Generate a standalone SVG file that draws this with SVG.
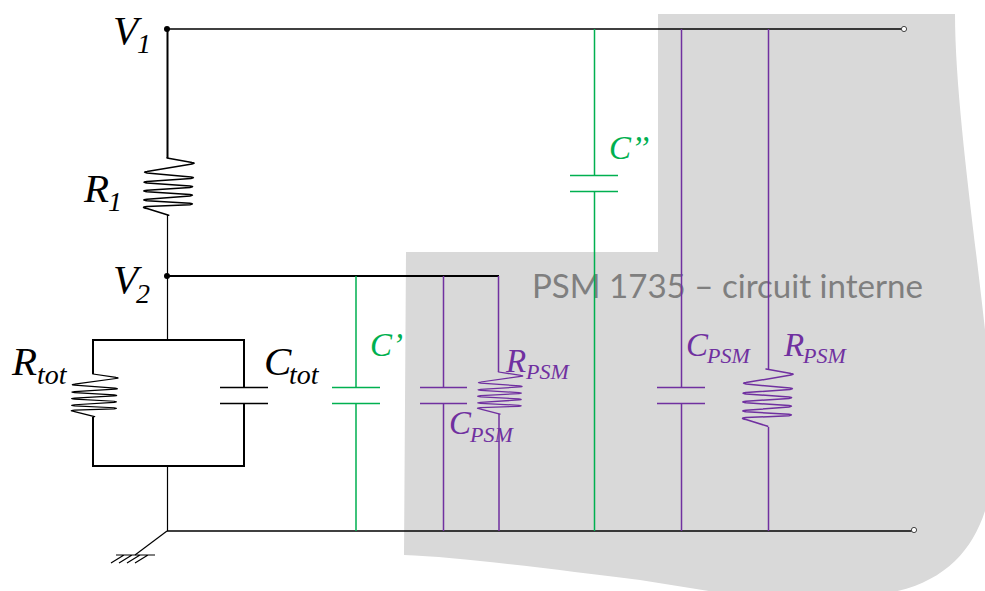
<svg xmlns="http://www.w3.org/2000/svg" width="985" height="591" viewBox="0 0 985 591">
<style>
.k{stroke:#000;fill:none}
.g{stroke:#00B050;fill:none;stroke-width:1.5}
.p{stroke:#7030A0;fill:none;stroke-width:1.5}
.t{font-family:"Liberation Serif","Times New Roman",serif;font-style:italic}
.lg{font-size:41px;fill:#000}
.sb{font-size:28px;fill:#000}
.gt{font-size:33px;fill:#00B050}
.pm{font-size:33px;fill:#7030A0}
.ps{font-size:22px;fill:#7030A0}
.plate{stroke-width:1.4}
.res{fill:none;stroke-linejoin:round;stroke-linecap:round}
</style>
<defs>
<path id="r" d="M0 0L25 4.6Q29.500 5.300 25 6L-20 13.600Q-25 14.300 -20 15L24 19Q29 19.700 24 20.400L-20 23.600Q-26 24.300 -20 25L23 28Q28.500 28.700 23 29.400L-20 32.300Q-26.500 33 -20 33.700L23 36.600Q28 37.300 23 38L-20 41.300Q-26.500 42 -20 42.700L23 45.300Q28 46 23 46.700L-20 48.600Q-27 49.300 -20 50.500L1.700 57.300"/>
</defs>
<path id="zone" fill="#D9D9D9" d="M406 252H658V14H955C955 110 980 270 988 360C1005 470 1000 590 860 596H740L640 580C560 570 460 557 404 555Z"/>
<text id="title" x="532" y="298" font-family="Lato,Carlito,'Noto Sans',sans-serif" font-size="32.500" fill="#7F7F7F" textLength="391" lengthAdjust="spacingAndGlyphs">PSM 1735 – circuit interne</text>
<g id="connectors">
<path class="k" stroke-width="1.6" d="M167 29H904"/>
<path class="k" stroke-width="2" d="M167.500 29V158"/>
<path class="k" stroke-width="1.2" d="M167.500 215V340"/>
<path class="k" stroke-width="2" d="M167 276H499"/>
<path class="k" stroke-width="2" d="M93 374V340H244V387M244 404V466H93V417"/>
<path class="k" stroke-width="1.2" d="M167.500 466V531"/>
<path class="k" stroke-width="1.6" d="M167 531H914"/>
<path class="k" stroke-width="1.2" d="M167 531L135 555"/>
<path class="g" d="M356 276V387M356 404V531"/>
<path class="g" d="M594.500 29V175M594.500 192V531"/>
<path class="p" d="M443.500 276V387M443.500 404V531"/>
<path class="p" d="M498.500 276V372M499 414V531"/>
<path class="p" d="M681.500 29V387M681.500 404V531"/>
<path class="p" d="M768.500 29V369M768.500 427V531"/>
</g>
<g id="V1"><circle cx="167" cy="29" r="3" fill="#000"/><text class="t lg" x="113" y="44">V</text><text class="t sb" x="137" y="53">1</text></g>
<g id="V2"><circle cx="167" cy="276" r="3" fill="#000"/><text class="t lg" x="113" y="293">V</text><text class="t sb" x="136" y="303">2</text></g>
<g id="R1"><use href="#r" class="res" x="167" y="158" stroke="#000" stroke-width="1.500"/><text class="t lg" x="84" y="202">R</text><text class="t sb" x="108" y="211">1</text></g>
<g id="Rtot"><use href="#r" class="res" transform="translate(93 374) scale(.92 .745)" stroke="#000" stroke-width="1.600"/><text class="t lg" x="12" y="375">R</text><text class="t sb" x="37" y="384">tot</text></g>
<g id="Ctot"><path class="k plate" stroke="#333" d="M220 387.500H268M220 403.500H268"/><text class="t lg" x="264" y="375">C</text><text class="t sb" x="289" y="384">tot</text></g>
<g id="Cprime"><path class="g plate" d="M332 387.500H380M332 403.500H380"/><text class="t gt" x="370" y="356">C’</text></g>
<g id="Csecond"><path class="g plate" d="M570 175.500H618M570 191.500H618"/><text class="t gt" x="609" y="159">C’’</text></g>
<g id="CPSM1"><path class="p plate" d="M420 387.500H467M420 403.500H467"/><text class="t pm" x="449" y="434">C</text><text class="t ps" x="470" y="442">PSM</text></g>
<g id="RPSM1"><use href="#r" class="res" transform="translate(498.500 372) scale(.89 .735)" stroke="#7030A0" stroke-width="1.700"/><text class="t pm" x="506" y="372">R</text><text class="t ps" x="526" y="379">PSM</text></g>
<g id="CPSM2"><path class="p plate" d="M657 387.500H705M657 403.500H705"/><text class="t pm" x="686" y="356">C</text><text class="t ps" x="707" y="363">PSM</text></g>
<g id="RPSM2"><use href="#r" class="res" x="766" y="369" stroke="#7030A0" stroke-width="1.500"/><text class="t pm" x="784" y="356">R</text><text class="t ps" x="803" y="363">PSM</text></g>
<g id="T1"><circle cx="904" cy="29" r="2.600" fill="#fff" stroke="#444" stroke-width="1"/></g>
<g id="T2"><circle cx="914" cy="530" r="2.600" fill="#fff" stroke="#444" stroke-width="1"/></g>
<g id="ground"><path class="k" stroke-width="1.200" d="M116 555H155M111 563L124 555M119 563L132 555M127 563L140 555M135 563L148 555"/></g>
</svg>
